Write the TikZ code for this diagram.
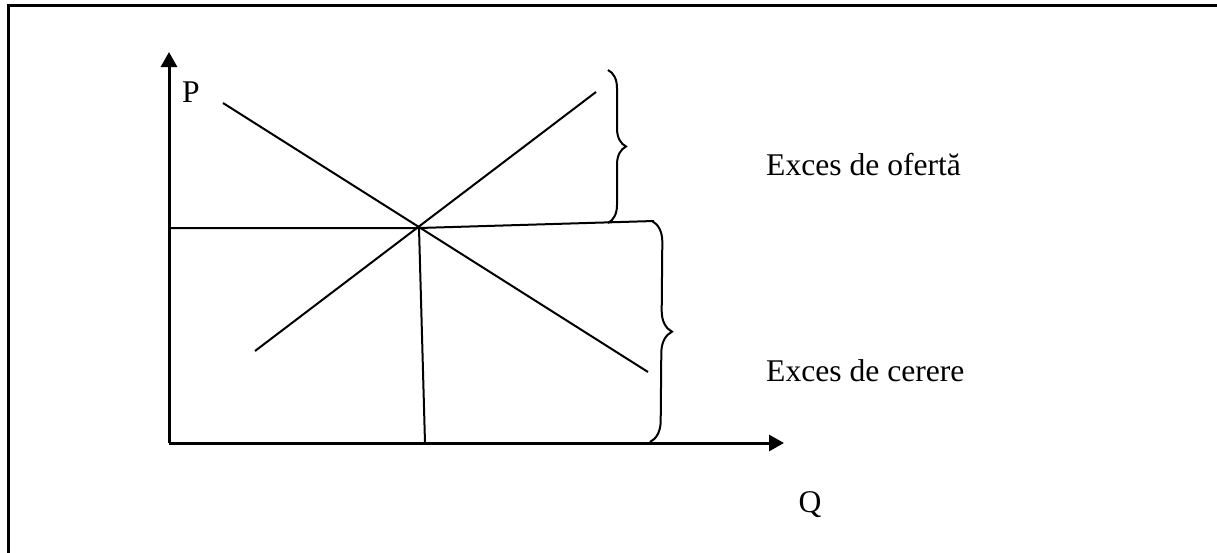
\documentclass[tikz,border=0pt]{standalone}
\usepackage{fontspec}
\setmainfont{Liberation Serif}
\usetikzlibrary{arrows.meta,decorations.pathreplacing}
\begin{document}
\begin{tikzpicture}[x=1pt,y=-1pt,
  axis/.style={line width=3pt,-{Triangle[width=16pt,length=15pt]}},
  curve/.style={line width=2pt},
  bracebox/.style={line width=2pt,decorate,decoration={brace,amplitude=#1}},
  lbl/.style={font=\fontsize{31.6}{36}\selectfont,inner sep=0pt}]
\useasboundingbox (0,0) rectangle (1217,552);
\clip (0,0) rectangle (1217,552);
% frame
\draw[line width=3pt] (8,600) -- (8,5) -- (1260,5);
% axes
\coordinate (O) at (169,443);
\coordinate (Ytop) at (169,52);
\coordinate (Xend) at (784,443);
\draw[axis] (O) -- (Ytop);
\draw[axis] (O) -- (Xend);
\node[lbl] (P) at (191,92) {P};
\node[lbl] (Q) at (810,505) {Q};
% curves
\coordinate (D1) at (223,103);
\coordinate (D2) at (648,372);
\coordinate (S1) at (255,351);
\coordinate (S2) at (596,92);
\coordinate (E) at (419,228);
\coordinate (Pe) at (169,228);
\coordinate (R) at (654,221);
\coordinate (Qe) at (425,443);
\draw[curve] (D1) -- (D2);
\draw[curve] (S1) -- (S2);
\draw[curve] (Pe) -- (E) -- (R);
\draw[curve] (E) -- (Qe);
% braces
\coordinate (B1t) at (608,70);
\coordinate (B1b) at (608,223);
\coordinate (B2t) at (652,221);
\coordinate (B2b) at (650,442);
\draw[bracebox=18pt] (B1t) -- (B1b);
\draw[bracebox=21pt] (B2t) -- (B2b);
\node[lbl,anchor=west] (T1) at (766,165) {Exces de ofertă};
\node[lbl,anchor=west] (T2) at (766,371) {Exces de cerere};
\end{tikzpicture}
\end{document}
